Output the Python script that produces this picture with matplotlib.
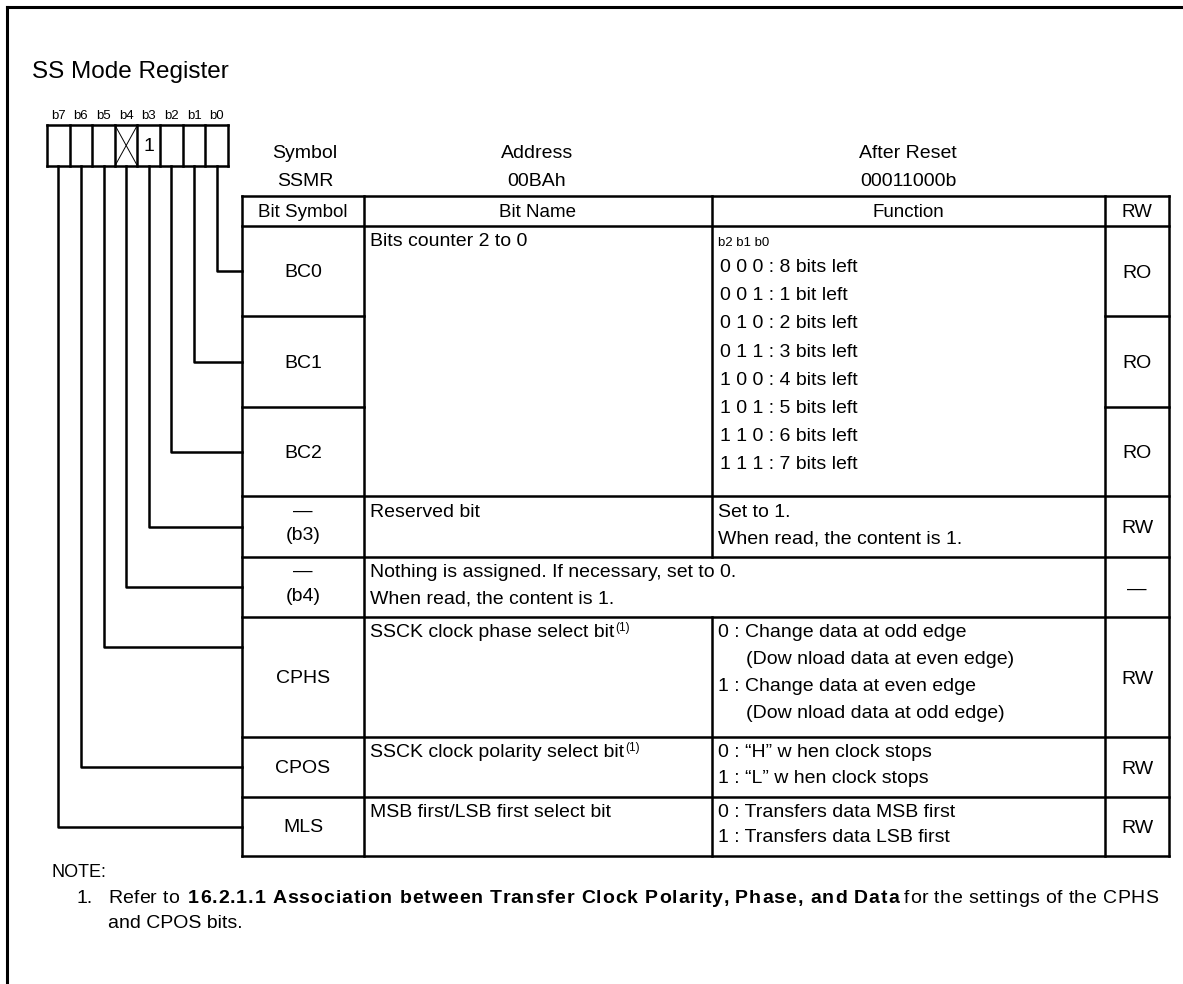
import matplotlib
matplotlib.use("Agg")
import matplotlib.pyplot as plt
from matplotlib.font_manager import FontProperties

# ---------------- data ----------------
title = "SS Mode Register"
bit_labels = ["b7", "b6", "b5", "b4", "b3", "b2", "b1", "b0"]
bit_values = ["", "", "", "x", "1", "", "", ""]          # 'x' = crossed (nothing assigned)
header_labels = ["Symbol", "Address", "After Reset"]
header_values = ["SSMR", "00BAh", "00011000b"]
column_headers = ["Bit Symbol", "Bit Name", "Function", "RW"]
bit_symbols = [["BC0"], ["BC1"], ["BC2"], ["\u2014", "(b3)"], ["\u2014", "(b4)"],
               ["CPHS"], ["CPOS"], ["MLS"]]
rw_values = ["RO", "RO", "RO", "RW", "\u2014", "RW", "RW", "RW"]
bc_name = "Bits counter 2 to 0"
bc_func_head = "b2 b1 b0"
bc_func_lines = ["0 0 0 : 8 bits left", "0 0 1 : 1 bit left", "0 1 0 : 2 bits left",
                 "0 1 1 : 3 bits left", "1 0 0 : 4 bits left", "1 0 1 : 5 bits left",
                 "1 1 0 : 6 bits left", "1 1 1 : 7 bits left"]
b3_name = "Reserved bit"
b3_func = ["Set to 1.", "When read, the content is 1."]
b4_name = ["Nothing is assigned. If necessary, set to 0.", "When read, the content is 1."]
cphs_name = "SSCK clock phase select bit"
cphs_func = [("0 : Change data at odd edge", 0), ("(Dow nload data at even edge)", 1),
             ("1 : Change data at even edge", 0), ("(Dow nload data at odd edge)", 1)]
cpos_name = "SSCK clock polarity select bit"
cpos_func = ["0 : \u201cH\u201d w hen clock stops", "1 : \u201cL\u201d w hen clock stops"]
mls_name = "MSB first/LSB first select bit"
mls_func = ["0 : Transfers data MSB first", "1 : Transfers data LSB first"]
footnote_mark = "(1)"
note_head = "NOTE:"
note_num = "1."
note_parts = [("Refer to", "normal"),
              ("16.2.1.1 Association between Transfer Clock Polarity, Phase, and Data", "bold"),
              ("for the settings of the CPHS", "normal")]
note_line2 = "and CPOS bits."

# ---------------- layout ----------------
W, H = 1183, 984
fig = plt.figure(figsize=(W / 100, H / 100), dpi=100)
ax = fig.add_axes([0, 0, 1, 1])
ax.set_xlim(0, W)
ax.set_ylim(H, 0)
ax.axis("off")
FONT = "Liberation Sans"
FS = 14
LW = 1.8
K = "black"

def line(x0, y0, x1, y1, lw=LW):
    ax.plot([x0, x1], [y0, y1], color=K, lw=lw, solid_capstyle="projecting")

def txt(x, y, s, ha="left", fs=FS, weight="normal"):
    return ax.text(x, y, s, ha=ha, va="baseline", fontsize=fs, family=FONT,
                   weight=weight, color=K)

fig.canvas.draw()
renderer = fig.canvas.get_renderer()
inv = ax.transData.inverted()

def right_edge(t):
    bb = t.get_window_extent(renderer)
    return inv.transform((bb.x1, bb.y0))[0]

def str_width(s, fs, weight):
    prop = FontProperties(family=FONT, size=fs, weight=weight)
    return renderer.get_text_width_height_descent(s, prop, ismath=False)[0]

def tracked(x0, x1, y, s, fs, weight):
    """Draw s between x0 and x1 with uniform letter spacing."""
    natural = str_width(s, fs, weight)
    track = (x1 - x0 - natural) / max(len(s) - 1, 1)
    for i, ch in enumerate(s):
        if ch == " ":
            continue
        off = str_width(s[:i], fs, weight) if i else 0.0
        txt(x0 + off + track * i, y, ch, fs=fs, weight=weight)

# outer frame (top + left)
line(7, 7, W, 7, lw=2.2)
line(7, 7, 7, H, lw=2.2)

txt(32, 78, title, fs=17.5)

# bit boxes
box_l, box_r, box_t, box_b = 47, 228, 125, 166
bw = (box_r - box_l) / 8
for i, (lab, val) in enumerate(zip(bit_labels, bit_values)):
    x0 = box_l + i * bw
    txt(x0 + bw / 2, 119, lab, ha="center", fs=9.5)
    if val == "x":
        ax.plot([x0, x0 + bw], [box_t, box_b], color=K, lw=0.7)
        ax.plot([x0, x0 + bw], [box_b, box_t], color=K, lw=0.7)
    elif val:
        txt(x0 + bw / 2, 151, val, ha="center", fs=FS)
for i in range(9):
    line(box_l + i * bw, box_t, box_l + i * bw, box_b)
line(box_l, box_t, box_r, box_t)
line(box_l, box_b, box_r, box_b)

# table geometry
cols = [242, 364, 712, 1105, 1169]
head_t, head_b = 196, 226
rows = [226, 316, 407, 496, 557, 617, 737, 797, 856]
conn_y = [271, 362, 452, 527, 587, 647, 767, 827]

# header labels above the table
for lab, val, cx in zip(header_labels, header_values, [305, 537, 908]):
    txt(cx, 158, lab, ha="center")
    txt(cx, 186, val, ha="center")

# table lines
for y in [head_t, head_b] + rows[3:]:
    line(cols[0], y, cols[-1], y)
for y in rows[1:3]:
    line(cols[0], y, cols[1], y)
    line(cols[3], y, cols[4], y)
for x in [cols[0], cols[1], cols[3], cols[4]]:
    line(x, head_t, x, rows[-1])
line(cols[2], head_t, cols[2], rows[4])
line(cols[2], rows[5], cols[2], rows[-1])

for h, c0, c1 in zip(column_headers, cols[:-1], cols[1:]):
    txt((c0 + c1) / 2, 217, h, ha="center", fs=13.5)

# connectors from bits to rows (row i = bit i)
for i, cy in enumerate(conn_y):
    bx = box_l + (7 - i + 0.5) * bw
    ax.plot([bx, bx, cols[0]], [box_b, cy, cy], color=K, lw=LW)

# bit symbol + RW columns
for i, (sym, rw) in enumerate(zip(bit_symbols, rw_values)):
    mid = (rows[i] + rows[i + 1]) / 2
    sx = (cols[0] + cols[1]) / 2
    if len(sym) == 1:
        txt(sx, mid + 6, sym[0], ha="center")
    else:
        txt(sx, mid - 11, sym[0], ha="center")
        txt(sx, mid + 14, sym[1], ha="center")
    txt((cols[3] + cols[4]) / 2, mid + 6.5, rw, ha="center")

NX = cols[1] + 6
FX = cols[2] + 6
# BC rows (merged)
txt(NX, rows[0] + 20, bc_name)
txt(FX, rows[0] + 20.5, bc_func_head, fs=9.5)
for k, s in enumerate(bc_func_lines):
    txt(FX + 2, 272 + 28.2 * k, s)
# b3
txt(NX, rows[3] + 21, b3_name)
for k, s in enumerate(b3_func):
    txt(FX, rows[3] + 21 + 26 * k, s)
# b4
for k, s in enumerate(b4_name):
    txt(NX, rows[4] + 20 + 26 * k, s)
# CPHS / CPOS / MLS
for r, name, sup in [(5, cphs_name, True), (6, cpos_name, True), (7, mls_name, False)]:
    t = txt(NX, rows[r] + 20, name)
    if sup:
        txt(right_edge(t) + 1, rows[r] + 14, footnote_mark, fs=8.5)
for k, (s, ind) in enumerate(cphs_func):
    txt(FX + (28 if ind else 0), rows[5] + 20 + 27 * k, s)
for k, s in enumerate(cpos_func):
    txt(FX, rows[6] + 20 + 26 * k, s)
for k, s in enumerate(mls_func):
    txt(FX, rows[7] + 20 + 25 * k, s)

# notes
txt(52, 877, note_head, fs=13)
txt(77, 903, note_num, fs=14)
spans = [(108, 179), (188, 899), (904, 1158)]
for (s, w), (x0, x1) in zip(note_parts, spans):
    tracked(x0, x1, 903, s, 14, w)
txt(108, 928, note_line2, fs=14)

fig.savefig("out.png", dpi=100)
